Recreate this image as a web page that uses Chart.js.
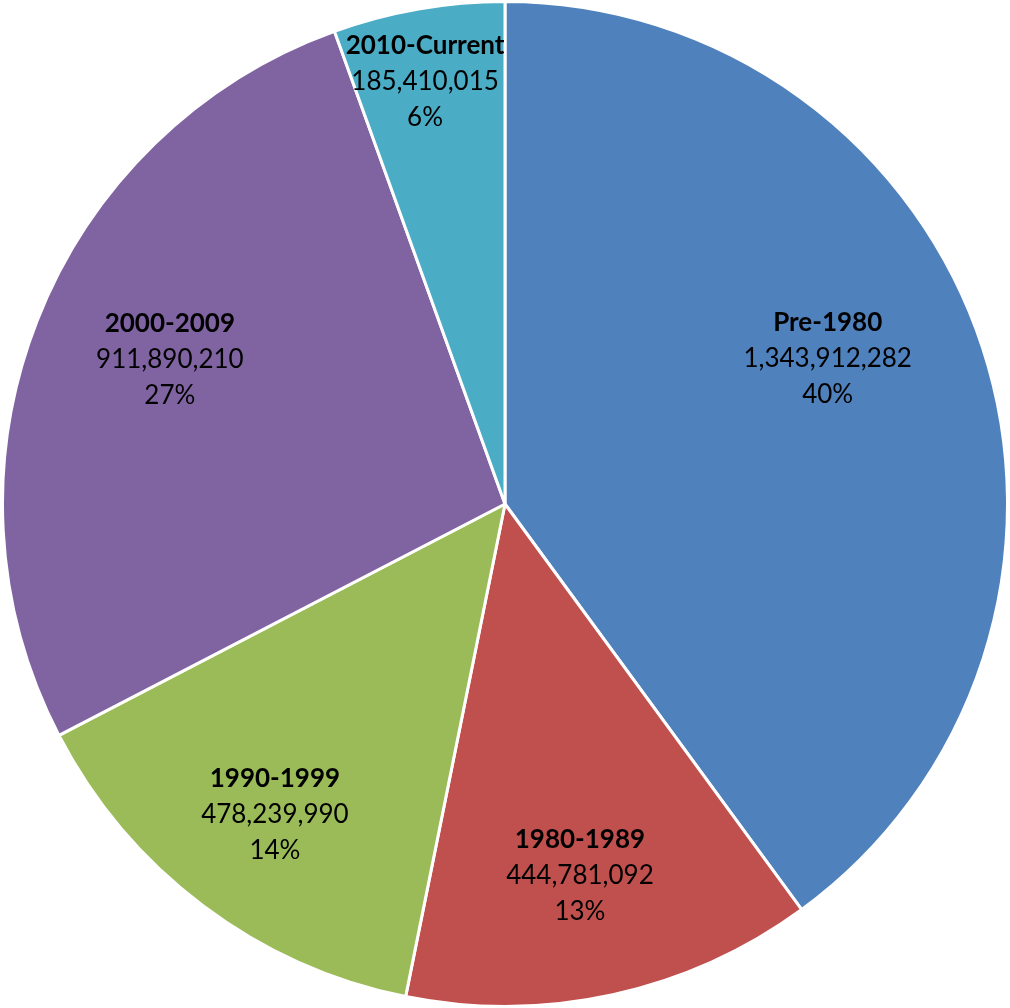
<!DOCTYPE html>
<html>
<head>
<meta charset="utf-8">
<script src="https://cdn.jsdelivr.net/npm/chart.js@4/dist/chart.umd.min.js"></script>
<style>
  html, body { margin: 0; padding: 0; background: #fff; }
  #wrap { width: 1010px; height: 1008px; position: relative; }
</style>
</head>
<body>
<div id="wrap"><canvas id="grafico-pastel"></canvas></div>
<script>
// Datos
var categorias = ["Pre-1980", "1980-1989", "1990-1999", "2000-2009", "2010-Current"];
var valores = [1343912282, 444781092, 478239990, 911890210, 185410015];
var colores = ["#4F81BD", "#C0504D", "#9BBB59", "#8064A2", "#4BACC6"];

// Ajuste de posicion de etiquetas: [giro en grados, fraccion del radio]
var ajusteEtiquetas = [[-6.1, 0.704], [1.0, 0.755], [-0.5, 0.77], [1.9, 0.726], [-0.8, 0.855]];

var total = valores.reduce(function (a, b) { return a + b; }, 0);

// Plugin para escribir las etiquetas dentro de cada porcion
var etiquetasPlugin = {
  id: "etiquetas",
  afterDatasetsDraw: function (chart) {
    var ctx = chart.ctx;
    var meta = chart.getDatasetMeta(0);
    meta.data.forEach(function (arc, i) {
      var p = arc.getProps(["x", "y", "startAngle", "endAngle", "outerRadius"], true);
      var ang = (p.startAngle + p.endAngle) / 2 + ajusteEtiquetas[i][0] * Math.PI / 180;
      var r = p.outerRadius * ajusteEtiquetas[i][1];
      var x = p.x + Math.cos(ang) * r;
      var y = p.y + Math.sin(ang) * r;
      var pct = Math.round(valores[i] / total * 100) + "%";
      ctx.save();
      ctx.fillStyle = "#000";
      ctx.textAlign = "center";
      ctx.textBaseline = "middle";
      ctx.font = "bold 26px Lato";
      ctx.fillText(categorias[i], x, y - 36);
      ctx.font = "26px Lato";
      ctx.fillText(valores[i].toLocaleString("en-US"), x, y);
      ctx.fillText(pct, x, y + 36);
      ctx.restore();
    });
  }
};

var ctx = document.getElementById("grafico-pastel").getContext("2d");

var miPastel = new Chart(ctx, {
  type: "pie",
  data: {
    labels: categorias,
    datasets: [{
      data: valores,
      backgroundColor: colores,
      borderColor: "#ffffff",
      borderWidth: 3
    }]
  },
  options: {
    responsive: true,
    maintainAspectRatio: false,
    animation: false,
    layout: { padding: -3 },
    plugins: {
      legend: { display: false },
      tooltip: { enabled: false }
    }
  },
  plugins: [etiquetasPlugin]
});
</script>
</body>
</html>
